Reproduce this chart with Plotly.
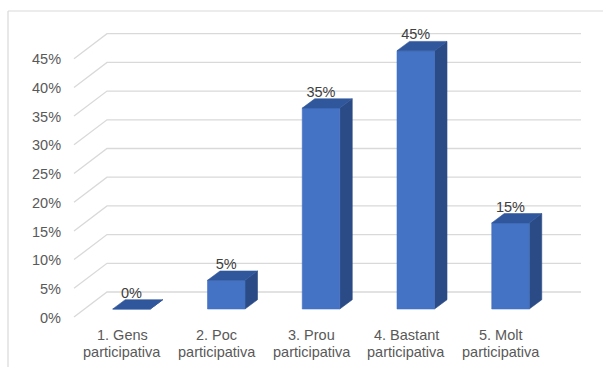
import plotly.graph_objects as go

# ---- data ----
categories = ["1. Gens<br>participativa", "2. Poc<br>participativa", "3. Prou<br>participativa",
              "4. Bastant<br>participativa", "5. Molt<br>participativa"]
values = [0, 5, 35, 45, 15]
value_labels = ["0%", "5%", "35%", "45%", "15%"]
y_ticks = [0, 5, 10, 15, 20, 25, 30, 35, 40, 45]
y_tick_labels = ["0%", "5%", "10%", "15%", "20%", "25%", "30%", "35%", "40%", "45%"]

# ---- layout calibration (pixel <-> data) ----
W, H = 603, 367
X0, XU = 131.5, 94.75   # px of category 0 bar center, px per category
Y0, YU = 309.0, 5.74    # px of 0% at bar front plane, px per 1%


def px2x(p):
    return (p - X0) / XU


def py2y(p):
    return (Y0 - p) / YU


bw = 37.5 / 2 / XU          # bar half width
ddx, ddy = 12.5 / XU, 9.3 / YU   # bar depth
fdx, fdy = -11 / XU, -8 / YU     # floor front plane offset from bar plane
bdx, bdy = 22 / XU, 17 / YU      # back wall offset from bar plane
x_front_left = px2x(74)
x_back_left = x_front_left + 33 / XU
x_back_right = px2x(581)

FRONT = "#4472C4"
TOP = "#30579C"
SIDE = "#2B4B86"
GRID = "#D9D9D9"
FONT = "Arial, Liberation Sans, sans-serif"

fig = go.Figure()

# gridlines: back wall + side wall diagonals
gx, gy = [], []
for v in y_ticks:
    gx += [x_back_right, x_back_left, x_front_left, None]
    gy += [v + bdy, v + bdy, v + fdy, None]
fig.add_trace(go.Scatter(x=gx, y=gy, mode="lines", line=dict(color=GRID, width=1.3),
                         hoverinfo="skip", showlegend=False))

# 3D bars
for i, v in enumerate(values):
    faces = [
        ([i + bw, i + bw + ddx, i + bw + ddx, i + bw, i + bw], [0, ddy, v + ddy, v, 0], SIDE),
        ([i - bw, i + bw, i + bw, i - bw, i - bw], [0, 0, v, v, 0], FRONT),
        ([i - bw, i + bw, i + bw + ddx, i - bw + ddx, i - bw], [v, v, v + ddy, v + ddy, v], TOP),
    ]
    for fx, fy, col in faces:
        fig.add_trace(go.Scatter(x=fx, y=fy, mode="lines", fill="toself", fillcolor=col,
                                 line=dict(color=col, width=0.6), hoverinfo="skip",
                                 showlegend=False))

# data labels
fig.add_trace(go.Scatter(x=list(range(len(values))), y=[v + 2.6 for v in values],
                         mode="text", text=value_labels,
                         textfont=dict(family=FONT, size=14.5, color="#404040"),
                         textposition="middle center", cliponaxis=False,
                         hoverinfo="skip", showlegend=False))

annotations = []
# y tick labels
for v, lab in zip(y_ticks, y_tick_labels):
    annotations.append(dict(x=px2x(63), y=v - 1.5, xref="x", yref="y", text=lab,
                            showarrow=False, xanchor="right", yanchor="middle",
                            font=dict(family=FONT, size=14.5, color="#595959")))
# category labels (two lines each)
for i, c in enumerate(categories):
    l1, l2 = c.split("<br>")
    for txt, p in ((l1, 335), (l2, 351.5)):
        annotations.append(dict(x=i - 9.5 / XU, y=py2y(p), xref="x", yref="y", text=txt,
                                showarrow=False, xanchor="center", yanchor="middle",
                                font=dict(family=FONT, size=14.5, color="#595959")))

shapes = [
    dict(type="line", xref="paper", yref="paper", x0=8 / W, x1=1, y0=1 - 11 / H, y1=1 - 11 / H,
         line=dict(color=GRID, width=1.2)),
    dict(type="line", xref="paper", yref="paper", x0=8 / W, x1=8 / W, y0=0, y1=1 - 11 / H,
         line=dict(color=GRID, width=1.2)),
]

fig.update_layout(
    width=W, height=H, margin=dict(l=0, r=0, t=0, b=0),
    paper_bgcolor="white", plot_bgcolor="white",
    xaxis=dict(range=[px2x(0), px2x(W)], visible=False, fixedrange=True),
    yaxis=dict(range=[py2y(H), py2y(0)], visible=False, fixedrange=True),
    annotations=annotations, shapes=shapes, showlegend=False,
)

fig.write_html("out.html")
